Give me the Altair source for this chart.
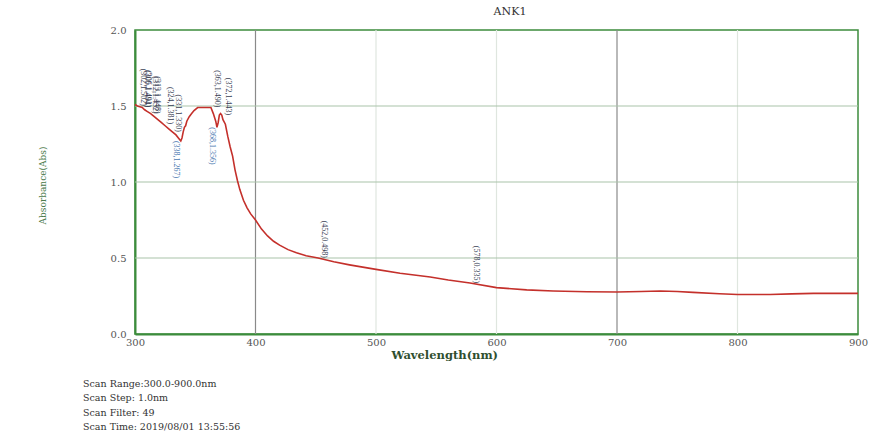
import altair as alt
import pandas as pd

# ---- data ----
wavelength = [300, 302, 304, 306, 308, 310, 313, 316, 319, 322, 325, 328, 331, 334, 336, 338,
              339, 340, 341, 342, 343, 345, 347, 349, 352, 356, 360, 363, 365, 367, 368, 369,
              370, 371, 372, 373, 375, 377, 379, 381, 383, 385, 387, 390, 393, 396, 400, 405,
              410, 415, 420, 427, 434, 442, 452, 465, 478, 489, 500, 520, 545, 560, 578, 600,
              625, 647, 675, 700, 720, 736, 750, 763, 785, 800, 827, 845, 863, 900]
absorbance = [1.51, 1.50, 1.495, 1.49, 1.475, 1.465, 1.45, 1.43, 1.41, 1.39, 1.37, 1.35, 1.33, 1.31, 1.29, 1.27,
              1.29, 1.33, 1.36, 1.37, 1.40, 1.43, 1.45, 1.47, 1.49, 1.49, 1.49, 1.49, 1.45, 1.40, 1.36, 1.39,
              1.44, 1.45, 1.44, 1.41, 1.38, 1.30, 1.23, 1.17, 1.08, 1.01, 0.95, 0.88, 0.83, 0.79, 0.75, 0.69,
              0.645, 0.61, 0.585, 0.555, 0.535, 0.515, 0.50, 0.475, 0.455, 0.44, 0.425, 0.40, 0.375, 0.355, 0.335, 0.305,
              0.29, 0.283, 0.278, 0.276, 0.28, 0.283, 0.28, 0.274, 0.265, 0.26, 0.26, 0.264, 0.267, 0.267]

peak_nm = [302, 305, 306, 312, 313, 324, 331, 363, 372, 452, 578]
peak_abs = [1.50, 1.49, 1.49, 1.45, 1.45, 1.38, 1.33, 1.49, 1.44, 0.50, 0.335]
peak_txt = ["(302,1.502)", "(305,1.494)", "(306,1.491)", "(312,1.452)", "(313,1.448)",
            "(324,1.381)", "(331,1.330)", "(363,1.490)", "(372,1.443)", "(452,0.498)", "(578,0.335)"]

valley_nm = [338, 368]
valley_abs = [1.27, 1.36]
valley_txt = ["(338,1.267)", "(368,1.356)"]

grid_major_x = [400, 700]
grid_minor_x = [500, 600, 800]
grid_y = [0.5, 1.0, 1.5]

x_ticks = [300, 400, 500, 600, 700, 800, 900]
y_ticks = [0.0, 0.5, 1.0, 1.5, 2.0]

title_text = "ANK1"
x_title = "Wavelength(nm)"
y_title = "Absorbance(Abs)"
info_lines = ["Scan Range:300.0-900.0nm", "Scan Step:   1.0nm", "Scan Filter:  49",
              "Scan Time:  2019/08/01 13:55:56"]

FONT = "Liberation Serif"
WFONT = "DejaVu Serif"
GREEN = "#3c8c3c"

curve_df = pd.DataFrame({"nm": wavelength, "abs": absorbance})
peak_df = pd.DataFrame({"nm": peak_nm, "abs": peak_abs, "t": peak_txt})
valley_df = pd.DataFrame({"nm": valley_nm, "abs": valley_abs, "t": valley_txt})

xs = alt.Scale(domain=[300, 900], nice=False, zero=False)
ys = alt.Scale(domain=[0, 2], nice=False, zero=True)

xaxis = alt.Axis(values=x_ticks, title=x_title, grid=False, ticks=False, domainColor=GREEN,
                 domainWidth=2, labelFont=WFONT, labelFontSize=10, labelColor="#555555",
                 labelPadding=3, titleFont=WFONT, titleFontSize=11.5, titleFontWeight="bold",
                 titleColor="#2f4f2f", titleAnchor="start", titleX=256, titleY=21,
                 titleBaseline="middle", labelFlush=False)
yaxis = alt.Axis(values=y_ticks, format=".1f", title=y_title, grid=False, ticks=False,
                 domainColor=GREEN, domainWidth=2, labelFont=WFONT, labelFontSize=10,
                 labelColor="#555555", labelPadding=9, titleFont=WFONT, titleFontSize=9,
                 titleFontWeight="normal", titleColor="#4a7a4a", titleX=-93, titleY=155,
                 titleAngle=-90, titleBaseline="middle", titleAnchor="middle")

def rule_x(vals, color, w):
    return alt.Chart(pd.DataFrame({"v": vals})).mark_rule(color=color, strokeWidth=w).encode(
        x=alt.X("v:Q", scale=xs, axis=xaxis))

minor_x = rule_x(grid_minor_x, "#dfe6df", 1.2)
major_x = rule_x(grid_major_x, "#8a8a8a", 1.2)
hgrid = alt.Chart(pd.DataFrame({"v": grid_y})).mark_rule(color="#a9c4a9", strokeWidth=1.2).encode(
    y=alt.Y("v:Q", scale=ys, axis=yaxis))

line = alt.Chart(curve_df).mark_line(color="#c4302b", strokeWidth=1.6).encode(
    x=alt.X("nm:Q", scale=xs, axis=xaxis), y=alt.Y("abs:Q", scale=ys, axis=yaxis))

peaks = alt.Chart(peak_df).mark_text(angle=90, align="right", baseline="middle", dy=-6,
                                     font=FONT, fontSize=8, color="#3a3f55").encode(
    x=alt.X("nm:Q", scale=xs), y=alt.Y("abs:Q", scale=ys), text="t:N")
valleys = alt.Chart(valley_df).mark_text(angle=90, align="left", baseline="middle", dy=5,
                                         font=FONT, fontSize=8, color="#4a78b0").encode(
    x=alt.X("nm:Q", scale=xs), y=alt.Y("abs:Q", scale=ys), text="t:N")

title = alt.Chart(pd.DataFrame({"t": [title_text]})).mark_text(
    font=WFONT, fontSize=11, color="#333333", baseline="middle", align="center").encode(
    text="t:N", x=alt.value(375), y=alt.value(-18))

info_layers = []
for i, s in enumerate(info_lines):
    info_layers.append(alt.Chart(pd.DataFrame({"t": [s]})).mark_text(
        font=WFONT, fontSize=9.5, color="#333333", align="left", baseline="middle").encode(
        text="t:N", x=alt.value(-52), y=alt.value(354 + 14.3 * i)))

chart = alt.layer(minor_x, major_x, hgrid, line, peaks, valleys, title, *info_layers).properties(
    width=723, height=304,
    autosize=alt.AutoSizeParams(type="none"),
    padding={"left": 135, "top": 30, "right": 11, "bottom": 101},
    background="white",
).configure_view(stroke=GREEN, strokeWidth=1.5)

chart.save("out.html", embed_options={"renderer": "svg", "actions": False})
